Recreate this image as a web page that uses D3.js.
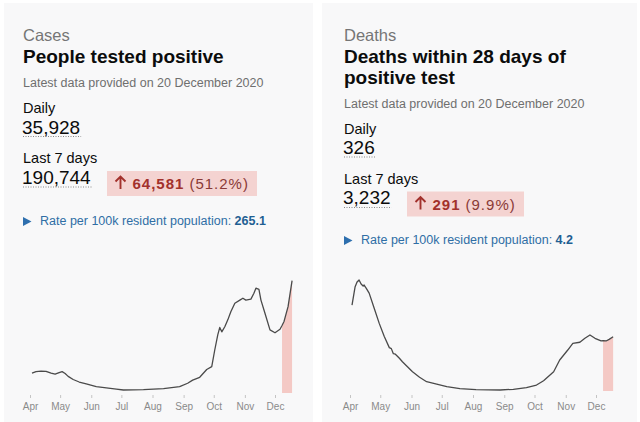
<!DOCTYPE html>
<html><head><meta charset="utf-8">
<script src="https://cdn.jsdelivr.net/npm/d3@7"></script>
<style>
body{margin:0;background:#fff}
svg{display:block;font-family:"Liberation Sans",Arial,Helvetica,sans-serif}
</style>
</head><body>
<svg id="chart" width="640" height="422"></svg>
<script>
// ---------- DATA ----------
const categories = ["Cases", "Deaths"];
const titles = [["People tested positive"], ["Deaths within 28 days of", "positive test"]];
const updatedText = "Latest data provided on 20 December 2020";
const dailyValues = ["35,928", "326"];
const weeklyValues = ["190,744", "3,232"];
const changeValues = ["64,581", "291"];
const changePercents = ["(51.2%)", "(9.9%)"];
const rateValues = ["265.1", "4.2"];
const monthTicks = ["2020-04-01","2020-05-01","2020-06-01","2020-07-01","2020-08-01","2020-09-01","2020-10-01","2020-11-01","2020-12-01"];
const highlightStart = "2020-12-08";

const casesDates = ["2020-04-03","2020-04-07","2020-04-12","2020-04-17","2020-04-22","2020-04-26","2020-04-30","2020-05-03","2020-05-06","2020-05-09","2020-05-14","2020-05-20","2020-05-27","2020-06-06","2020-06-16","2020-06-26","2020-07-03","2020-07-23","2020-08-12","2020-08-28","2020-09-05","2020-09-10","2020-09-17","2020-09-24","2020-09-29","2020-10-02","2020-10-05","2020-10-07","2020-10-09","2020-10-12","2020-10-15","2020-10-18","2020-10-22","2020-10-27","2020-10-30","2020-11-02","2020-11-07","2020-11-10","2020-11-12","2020-11-15","2020-11-17","2020-11-21","2020-11-26","2020-12-01","2020-12-06","2020-12-08","2020-12-10","2020-12-14","2020-12-18"];
const casesValues = [6300,6800,7000,6900,6300,6000,6500,6800,6200,5300,4300,3500,2900,2000,1650,1250,950,1050,1400,2000,3100,4100,5000,7500,8400,13700,18500,20900,19500,21100,23300,25900,28600,29600,30200,29600,29900,31800,33400,33000,29600,25400,20100,19200,20300,21500,22800,27500,35800];

const deathsDates = ["2020-04-03","2020-04-06","2020-04-08","2020-04-10","2020-04-12","2020-04-14","2020-04-15","2020-04-17","2020-04-20","2020-04-25","2020-04-30","2020-05-05","2020-05-10","2020-05-12","2020-05-14","2020-05-16","2020-05-20","2020-05-23","2020-05-28","2020-06-02","2020-06-09","2020-06-16","2020-06-26","2020-07-06","2020-07-19","2020-08-04","2020-08-28","2020-09-10","2020-09-23","2020-10-03","2020-10-10","2020-10-20","2020-10-26","2020-11-03","2020-11-08","2020-11-15","2020-11-20","2020-11-25","2020-11-30","2020-12-06","2020-12-08","2020-12-11","2020-12-14","2020-12-18"];
const deathsValues = [850,1030,1080,1100,1060,1040,1050,1020,970,820,670,540,430,420,370,365,325,290,240,190,136,92,69,43,23,13,10,17,33,59,102,191,307,406,473,483,522,555,522,496,500,496,512,538];

// ---------- LAYOUT ----------
const panels = [
  {x0: 4, x1: 313, tx: 23, shift: 0, chartX: [30, 275], zeroY: 393, topY: 280, yMax: 36000,
   dates: casesDates, values: casesValues, badge: [107, 150], rateShift: 0},
  {x0: 322, x1: 637, tx: 344, shift: 20.5, chartX: [350, 596], zeroY: 391, topY: 280, yMax: 1100,
   dates: deathsDates, values: deathsValues, badge: [407, 117], rateShift: -1.5}
];

const parse = d3.timeParse("%Y-%m-%d");
const svg = d3.select("#chart");

panels.forEach((p, i) => {
  const g = svg.append("g");
  g.append("rect").attr("x", p.x0).attr("y", 3).attr("width", p.x1 - p.x0).attr("height", 430)
    .attr("fill", "#f8f8f9");

  g.append("text").attr("x", p.tx).attr("y", 41).attr("font-size", 16.5).attr("fill", "#757575")
    .text(categories[i]);
  titles[i].forEach((t, k) => {
    g.append("text").attr("x", p.tx).attr("y", 63 + k * 20.5).attr("font-size", 19)
      .attr("font-weight", "bold").attr("fill", "#0b0c0c").text(t);
  });
  const s = p.shift;
  g.append("text").attr("x", p.tx).attr("y", 87 + s).attr("font-size", 12.5).attr("fill", "#6f6f6f")
    .text(updatedText);

  g.append("text").attr("x", p.tx).attr("y", 113 + s).attr("font-size", 14.5).attr("fill", "#0b0c0c").text("Daily");
  const dv = g.append("text").attr("x", p.tx - 1).attr("y", 133.5 + s).attr("font-size", 19).attr("fill", "#0b0c0c").text(dailyValues[i]);
  g.append("line").attr("x1", p.tx).attr("x2", p.tx + dv.node().getComputedTextLength())
    .attr("y1", 136.5 + s).attr("y2", 136.5 + s).attr("stroke", "#888").attr("stroke-dasharray", "1,1.5");

  g.append("text").attr("x", p.tx).attr("y", 163 + s).attr("font-size", 14.5).attr("fill", "#0b0c0c").text("Last 7 days");
  const wv = g.append("text").attr("x", p.tx - 1).attr("y", 183.5 + s).attr("font-size", 19).attr("fill", "#0b0c0c").text(weeklyValues[i]);
  g.append("line").attr("x1", p.tx).attr("x2", p.tx + wv.node().getComputedTextLength())
    .attr("y1", 187 + s).attr("y2", 187 + s).attr("stroke", "#888").attr("stroke-dasharray", "1,1.5");

  // change badge
  const bx = p.badge[0], by = 171 + s;
  g.append("rect").attr("x", bx).attr("y", by).attr("width", p.badge[1]).attr("height", 25)
    .attr("fill", "#f4d3d1");
  const ax0 = bx + 13.5;
  g.append("path").attr("d", `M${ax0},${by + 18}V${by + 5.5}M${ax0 - 5},${by + 10.5}L${ax0},${by + 5.5}L${ax0 + 5},${by + 10.5}`)
    .attr("fill", "none").attr("stroke", "#a2312c").attr("stroke-width", 1.9);
  const bt = g.append("text").attr("x", bx + 25.5).attr("y", by + 18).attr("font-size", 15)
    .attr("fill", "#a2312c").attr("letter-spacing", 1);
  bt.append("tspan").attr("font-weight", "bold").text(changeValues[i]);
  bt.append("tspan").attr("dx", 5).attr("fill", "#8a3a36").text(changePercents[i]);

  // rate
  const ry = 225 + s + p.rateShift;
  g.append("path").attr("d", `M${p.tx},${ry - 8}L${p.tx + 8.5},${ry - 3.5}L${p.tx},${ry + 1}Z`).attr("fill", "#2e6fae");
  const rt = g.append("text").attr("x", p.tx + 17).attr("y", ry).attr("font-size", 12.5).attr("fill", "#2f6ea5");
  rt.append("tspan").text("Rate per 100k resident population: ");
  rt.append("tspan").attr("font-weight", "bold").attr("fill", "#1f5f93").text(rateValues[i]);

  // chart
  const x = d3.scaleTime().domain([parse(monthTicks[0]), parse(monthTicks[monthTicks.length - 1])]).range(p.chartX);
  const y = d3.scaleLinear().domain([0, p.yMax]).range([p.zeroY, p.topY]);
  const data = p.dates.map((d, k) => ({date: parse(d), value: p.values[k]}));
  const hStart = parse(highlightStart);
  const hData = data.filter(d => d.date >= hStart);

  g.append("path").datum(hData)
    .attr("d", d3.area().x(d => x(d.date)).y0(y(0)).y1(d => y(d.value)))
    .attr("fill", "#f4c9c5");
  g.append("path").datum(data)
    .attr("d", d3.line().x(d => x(d.date)).y(d => y(d.value)))
    .attr("fill", "none").attr("stroke", "#4a4a4a").attr("stroke-width", 1.3).attr("stroke-linejoin", "round");

  const axis = d3.axisBottom(x).tickValues(monthTicks.map(parse)).tickFormat(d3.timeFormat("%b"))
    .tickSize(3).tickPadding(4.5);
  const ax = g.append("g").attr("transform", `translate(0,395)`).call(axis);
  ax.select(".domain").remove();
  ax.selectAll(".tick line").attr("stroke", "#c4c4c4");
  ax.selectAll(".tick text").attr("fill", "#8a8a8a").attr("font-size", 10)
    .attr("font-family", "'Liberation Sans',Arial,sans-serif");
});
</script>
</body></html>
